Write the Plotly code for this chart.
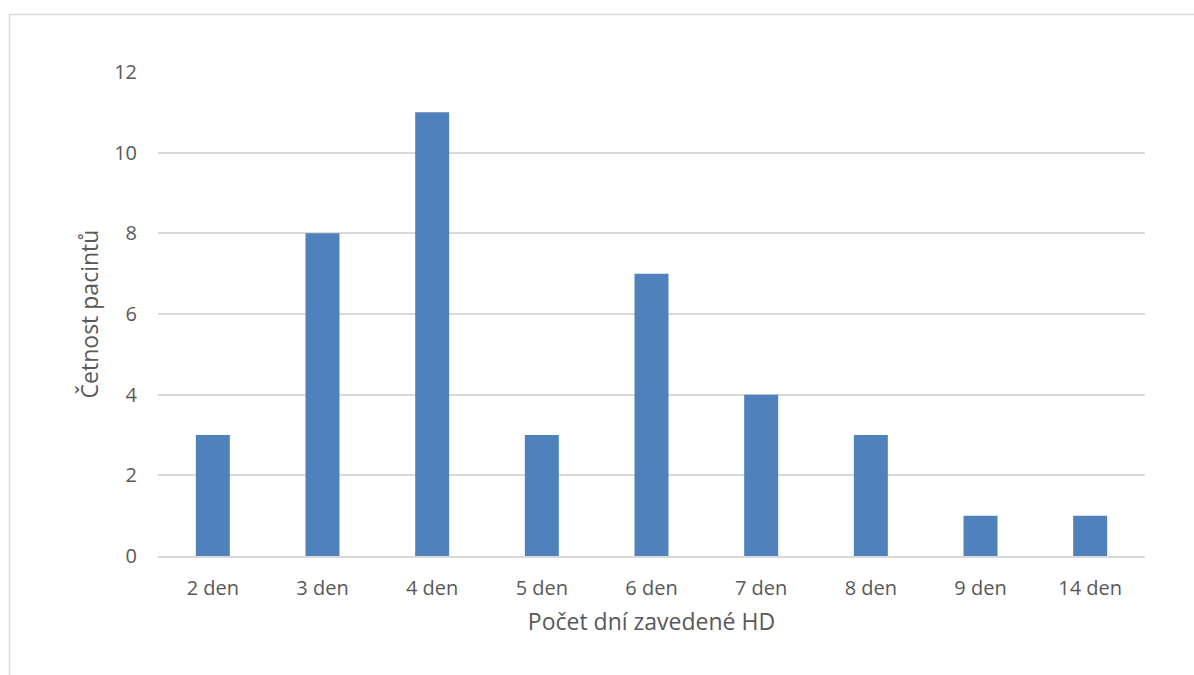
import plotly.graph_objects as go

# Frequency of patients by number of days of HD
categories = ["2 den", "3 den", "4 den", "5 den", "6 den", "7 den", "8 den", "9 den", "14 den"]
counts = [3, 8, 11, 3, 7, 4, 3, 1, 1]
y_ticks = [0, 2, 4, 6, 8, 10, 12]

W, H = 1194, 675
L, R, T, B = 158, 49, 72, 119
pw, ph = W - L - R, H - T - B

def px_x(x):
    return (x - L) / pw

def px_y(y):
    return (H - B - y) / ph

text_color = "#595959"
grid_color = "#D9D9D9"
font_family = "Open Sans, Noto Sans, sans-serif"

fig = go.Figure(
    go.Bar(
        x=categories,
        y=counts,
        marker=dict(color="#4F81BD", line=dict(width=0)),
        hoverinfo="x+y",
    )
)

fig.update_layout(
    width=W,
    height=H,
    margin=dict(l=L, r=R, t=T, b=B),
    paper_bgcolor="white",
    plot_bgcolor="white",
    bargap=0.69,
    showlegend=False,
    font=dict(family=font_family, color=text_color, size=18),
    xaxis=dict(
        showgrid=False,
        showline=True,
        linecolor=grid_color,
        linewidth=1.5,
        ticks="",
        ticklabelstandoff=13,
        tickfont=dict(size=20, color=text_color),
        title=dict(text="Počet dní zavedené HD", font=dict(size=23, color=text_color), standoff=14),
    ),
    yaxis=dict(
        range=[0, 12],
        tickvals=y_ticks,
        showgrid=True,
        gridcolor=grid_color,
        gridwidth=1.5,
        zeroline=False,
        ticks="",
        ticklabelstandoff=20,
        tickfont=dict(size=20, color=text_color),
        title=dict(text="Četnost pacintů", font=dict(size=23, color=text_color), standoff=9),
    ),
    shapes=[
        dict(
            type="rect",
            xref="paper",
            yref="paper",
            x0=px_x(9.5),
            x1=px_x(1200),
            y0=px_y(690),
            y1=px_y(14.5),
            line=dict(color=grid_color, width=1.5),
            fillcolor="rgba(0,0,0,0)",
            layer="below",
        )
    ],
)

fig.write_html("out.html")
